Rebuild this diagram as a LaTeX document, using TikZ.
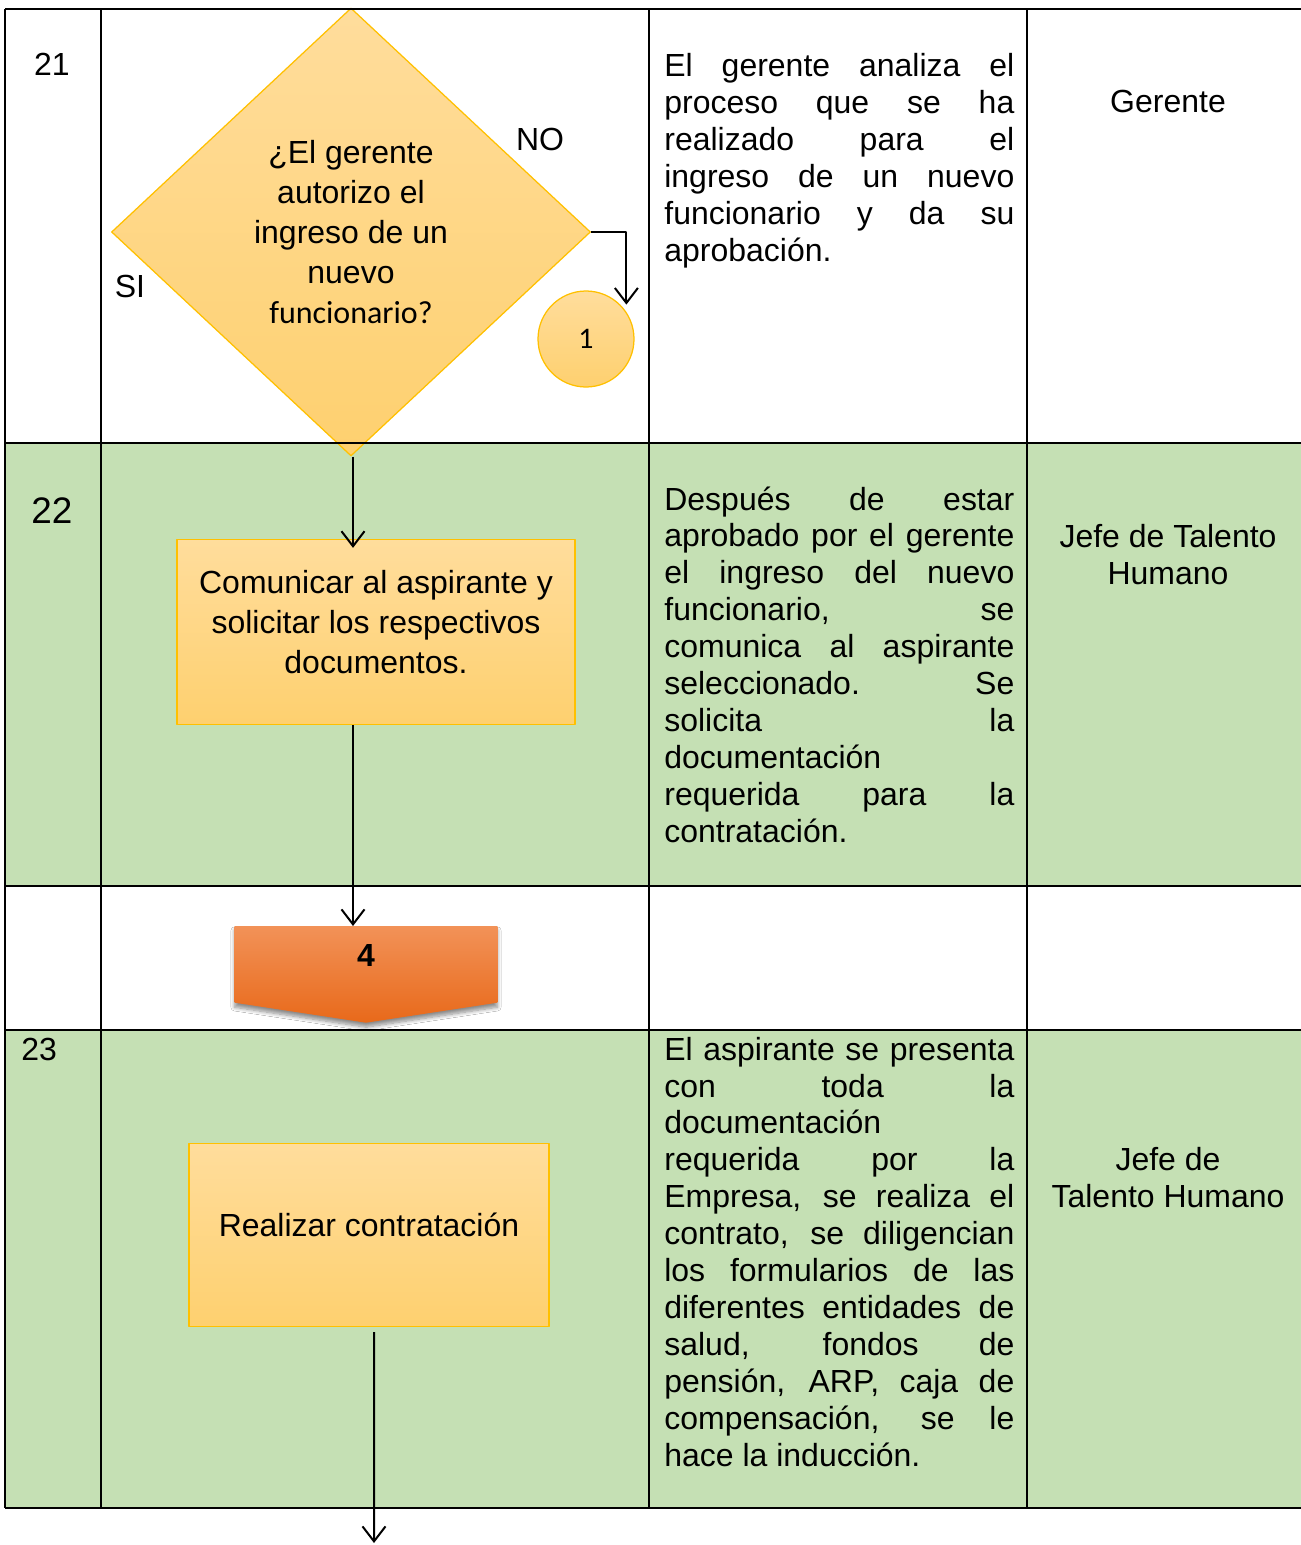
\documentclass[tikz,border=0pt]{standalone}
\usepackage{fontspec}
\setmainfont{Liberation Sans}
\newfontfamily\calibrifont{Carlito}
\usepackage{tikz}
\usetikzlibrary{arrows.meta,calc,positioning,shapes.geometric,shadows.blur,backgrounds}
\definecolor{rowgreen}{HTML}{C5E0B4}
\definecolor{boxtop}{HTML}{FFDD9C}
\definecolor{boxbottom}{HTML}{FED06F}
\definecolor{boxline}{HTML}{FFC000}
\definecolor{pagetop}{HTML}{F29258}
\definecolor{pagebottom}{HTML}{E8691A}
\newcommand\cellfont{\fontsize{18.2}{21.05}\selectfont}
\newcommand\shapefont{\fontsize{18.2}{22.8}\selectfont}
\tikzset{
every picture/.style={line join=round},
grid rule/.style={draw=black, line width=0.45mm},
flow arrow/.style={
  draw=black,
  line width=0.4mm,
  -{Straight Barb[length=3mm,width=4.6mm]}
},
yellow fill/.style={top color=boxtop, bottom color=boxbottom, draw=boxline, line width=0.25mm},
decision node/.style={
  yellow fill,
  diamond,
  inner sep=0pt,
  minimum width=95.8mm,
  minimum height=89.6mm,
  align=center,
  font=\shapefont
},
process box/.style={yellow fill, rectangle, inner sep=0pt},
box text/.style={font=\shapefont, align=center, yshift=2mm},
connector node/.style={
  yellow fill,
  circle,
  inner sep=0pt,
  minimum size=19.2mm,
  font=\calibrifont\fontsize{17}{19}\selectfont
},
offpage node/.style={
  anchor=north,
  inner sep=0pt,
  minimum width=52.4mm,
  minimum height=15.2mm,
  text depth=3.6mm,
  font=\cellfont\bfseries
},
offpage fill/.style={
  top color=pagetop,
  bottom color=pagebottom,
  blur shadow={shadow xshift=0mm, shadow yshift=-0.9mm, shadow blur steps=8, shadow opacity=45}
},
desc text/.style={
  anchor=base west,
  inner sep=0pt,
  text width=70mm,
  align=justify,
  font=\cellfont
},
role text/.style={anchor=base, inner sep=0pt, align=center, font=\cellfont},
step number/.style={anchor=base, inner sep=0pt, font=\cellfont},
branch label/.style={inner sep=0pt, font=\cellfont}
}

\begin{document}
\begin{tikzpicture}[x=0.2mm, y=-0.2mm]
\useasboundingbox (0,0) rectangle (1301,1545);

% page and shaded rows
\begin{scope}[on background layer]
\fill[white] (0,0) rectangle (1301,1545);
\fill[rowgreen] (5,443) rectangle (1301,886);
\fill[rowgreen] (5,1030) rectangle (1301,1508);
\end{scope}

% step 21: decision
\node[decision node] (dec) at (351,232) {¿El gerente\\autorizo el\\ingreso de un\\nuevo\\{\calibrifont funcionario?}};
\node[connector node] (c1) at (586,339) {1};
\node[branch label] (no) at (540,139) {NO};
\node[branch label] (si) at (130,286) {SI};

% step 22 and 23 boxes
\node[process box, minimum width=79.6mm, minimum height=37mm,
  label={[box text]center:Comunicar al aspirante y\\solicitar los respectivos\\documentos.}] (notify) at (376,632) {};
\node[offpage node] (pg4) at (366,926) {4};
\begin{scope}[on background layer]
\path[offpage fill] (pg4.north west) -- (pg4.north east) -- (pg4.south east)
  -- ($(pg4.south)+(0,20)$) -- (pg4.south west) -- cycle;
\end{scope}
\node[process box, minimum width=72mm, minimum height=36.6mm,
  label={[box text]center:Realizar contratación}] (hire) at (369,1235) {};
\coordinate (next) at (374,1543);

% connectors
\draw[flow arrow] (dec.east) -| ([xshift=1.2mm]c1.north east);
\draw[flow arrow] ([xshift=0.4mm]dec.south) -- ([xshift=0.4mm,yshift=-1.8mm]dec.south |- notify.north);
\draw[flow arrow] ([xshift=0.4mm]notify.south -| dec.south) -- ([xshift=0.4mm]dec.south |- pg4.north);
\draw[flow arrow] ([xshift=1mm,yshift=-1mm]hire.south) -- (next);

% table rules
\foreach \y in {9,443,886,1030,1508}
  \draw[grid rule] (5,\y) -- (1301,\y);
\foreach \x in {5,101,649,1027}
  \draw[grid rule] (\x,9) -- (\x,1508);

% step numbers
\node[step number] (n21) at (52,76) {21};
\node[step number, font=\fontsize{21}{24}\selectfont] (n22) at (52,523) {22};
\node[step number, anchor=base west] (n23) at (21,1060) {23};

% descriptions
\node[desc text] (d21) at (664,77) {El gerente analiza el\linebreak
proceso que se ha\linebreak
realizado para el\linebreak
ingreso de un nuevo\linebreak
funcionario y da su\linebreak
aprobación.};
\node[desc text] (d22) at (664,510) {Después de estar\linebreak
aprobado por el gerente\linebreak
el ingreso del nuevo\linebreak
funcionario, se\linebreak
comunica al aspirante\linebreak
seleccionado. Se\linebreak
solicita la\linebreak
documentación\hfill\linebreak
requerida para la\linebreak
contratación.};
\node[desc text] (d23) at (664,1060) {El aspirante se presenta\linebreak
con toda la\linebreak
documentación\hfill\linebreak
requerida por la\linebreak
Empresa, se realiza el\linebreak
contrato, se diligencian\linebreak
los formularios de las\linebreak
diferentes entidades de\linebreak
salud, fondos de\linebreak
pensión, ARP, caja de\linebreak
compensación, se le\linebreak
hace la inducción.};

% responsible
\node[role text] (r21) at (1168,113) {Gerente};
\node[role text] (r22) at (1168,584) {Jefe de Talento\\Humano};
\node[role text] (r23) at (1168,1207) {Jefe de\\Talento Humano};
\end{tikzpicture}
\end{document}
